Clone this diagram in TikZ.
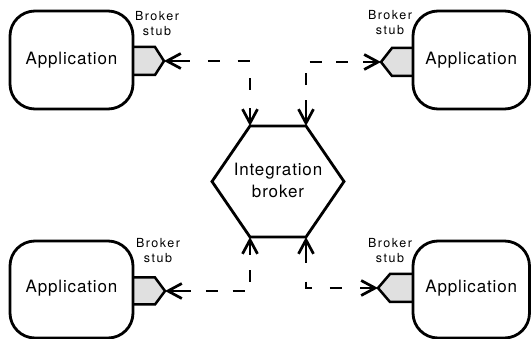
\documentclass[tikz,border=0pt]{standalone}
\usepackage{fontspec}
\setmainfont{TeX Gyre Heros}
\newfontfamily\labelfont[LetterSpace=5]{TeX Gyre Heros}
\newfontfamily\stubfont[LetterSpace=12]{TeX Gyre Heros}
\usetikzlibrary{arrows.meta}
\definecolor{stubgray}{RGB}{224,224,224}

\begin{document}
\begin{tikzpicture}[x=1pt,y=-1pt,
  >={Straight Barb[length=14pt,width=15pt]},
  app/.style={draw, line width=2.8pt, rounded corners=25pt,
    inner sep=0pt, outer sep=0pt,
    font=\labelfont\fontsize{17}{22}\selectfont,
    text height=12.2pt, text depth=2.2pt},
  stubshape/.style={draw, fill=stubgray, line width=2.5pt, line join=miter},
  stubtext/.style={align=center, inner sep=0pt,
    font=\stubfont\fontsize{12.5}{15}\selectfont},
  hub/.style={inner sep=0pt, outer sep=0pt, align=center,
    font=\labelfont\fontsize{17}{22}\selectfont},
  hubline/.style={draw, line width=2.8pt, line join=miter},
  link/.style={line width=2.7pt, <->}
]
\useasboundingbox (0,0) rectangle (531,339);

% broker stubs (drawn first, the application boxes sit on top)
\filldraw[stubshape] (133,47) -- (155,47) -- (164,61) -- (155,75) -- (133,75);
\filldraw[stubshape] (413,48) -- (392,48) -- (381,62) -- (392,76) -- (413,76);
\filldraw[stubshape] (133,277.5) -- (155,277.5) -- (165,291) -- (155,304.5) -- (133,304.5);
\filldraw[stubshape] (413,274) -- (390,274) -- (378,288) -- (390,302) -- (413,302);
\coordinate (tlTip) at (164,61);
\coordinate (trTip) at (381,62);
\coordinate (blTip) at (165,291);
\coordinate (brTip) at (378,288);

% applications
\node[app, minimum width=123pt, minimum height=98pt] (tl) at (71.5,60) {Application};
\node[app, minimum width=116.5pt, minimum height=98pt] (tr) at (471.25,60) {Application};
\node[app, minimum width=123pt, minimum height=97pt, text depth=5.2pt] (bl) at (71.5,289.5) {Application};
\node[app, minimum width=116.5pt, minimum height=97pt, text depth=5.2pt] (br) at (471.25,289.5) {Application};

% stub labels
\node[stubtext] (tlLabel) at (157,24) {Broker\\stub};
\node[stubtext] (trLabel) at (390,23) {Broker\\stub};
\node[stubtext] (blLabel) at (158,251) {Broker\\stub};
\node[stubtext] (brLabel) at (390,251) {Broker\\stub};

% integration broker: a hexagon around the label
\node[hub] (hub) at (278,180) {Integration\\broker};
\coordinate (hubNW) at (250,126);
\coordinate (hubNE) at (306,126);
\coordinate (hubE)  at (344,181.5);
\coordinate (hubSE) at (306,237);
\coordinate (hubSW) at (250,237);
\coordinate (hubW)  at (212,181.5);
\draw[hubline] (hubNW) -- (hubNE) -- (hubE) -- (hubSE) -- (hubSW) -- (hubW) -- cycle;

% connectors
\draw[link, dash pattern={on 22pt off 17.75pt on 12pt off 17.75pt on 12pt off 17.75pt on 12pt off 17.75pt on 60pt}]
  (tlTip) -| (hubNW);
\draw[link, dash pattern={on 22pt off 14.75pt on 12pt off 14.75pt on 12pt off 14.75pt on 12pt off 14.75pt on 60pt}]
  (hubNE) |- (trTip);
\draw[link, dash pattern={on 22pt off 14.75pt on 12pt off 14.75pt on 12pt off 14.75pt on 12pt off 14.75pt on 60pt}]
  (blTip) -| (hubSW);
\draw[link, dash pattern={on 22pt off 18.3pt on 12pt off 18.3pt on 12pt off 18.3pt on 60pt}]
  (hubSE) |- (brTip);
\end{tikzpicture}
\end{document}
